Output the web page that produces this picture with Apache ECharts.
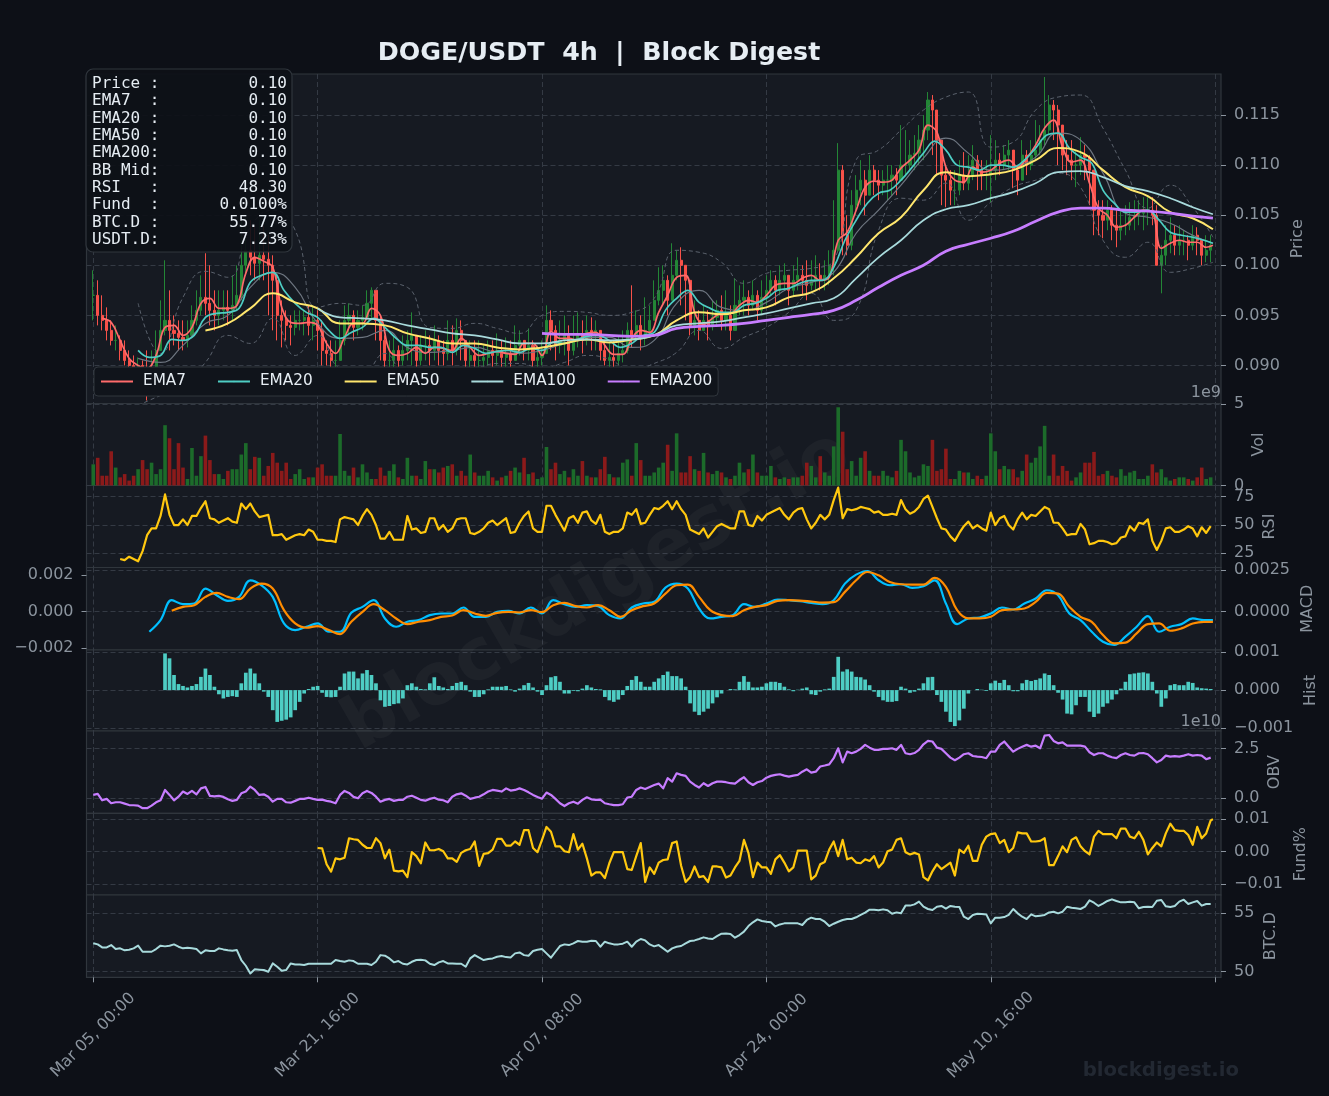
<!DOCTYPE html>
<html>
<head>
<meta charset="utf-8">
<title>DOGE/USDT 4h</title>
<script src="https://cdn.jsdelivr.net/npm/echarts@6/dist/echarts.min.js"></script>
<style>
html,body{margin:0;padding:0;background:#0d1017;}
#chart{width:1329px;height:1096px;}
</style>
</head>
<body>
<div id="chart"></div>
<script>
// candles and price lines are in units of 0.0001, one candle kept per 8h
const closes=[970,950,945,935,925,925,915,905,900,897,900,895,893,898,915,935,945,935,932,928,925,930,945,955,968,962,955,950,955,958,955,960,970,1000,1015,1008,1002,1010,1006,1000,985,950,945,940,938,945,945,948,940,945,935,915,912,905,905,925,945,950,938,945,948,962,975,945,925,905,905,915,905,915,925,930,905,920,920,915,925,915,912,925,915,935,925,905,910,905,905,908,915,910,915,908,912,905,920,925,915,920,905,908,912,945,935,920,925,930,915,925,930,925,935,930,935,915,905,908,905,912,915,935,930,940,930,935,945,965,975,985,965,990,1005,1000,985,940,945,935,945,940,948,955,945,950,935,960,965,968,960,970,955,968,975,985,975,985,990,975,985,990,985,980,985,990,985,990,1000,1015,1095,1030,1020,1060,1075,1085,1070,1095,1085,1080,1085,1085,1090,1085,1100,1100,1110,1112,1125,1135,1165,1155,1125,1090,1085,1075,1075,1090,1082,1090,1105,1095,1090,1090,1095,1105,1100,1110,1115,1095,1085,1110,1100,1110,1115,1125,1135,1160,1155,1140,1110,1105,1100,1100,1110,1108,1095,1055,1050,1045,1055,1040,1035,1040,1040,1048,1050,1052,1055,1055,1050,1000,1010,1025,1030,1020,1025,1025,1020,1030,1025,1010,1015,1020];
const highs=[995,985,970,958,945,940,930,925,915,910,908,905,915,915,935,965,1005,975,950,945,945,945,960,975,990,1012,1000,975,975,975,975,990,1000,1048,1047,1045,1040,1045,1040,1030,1010,990,965,955,950,955,955,955,960,960,955,945,925,925,925,945,960,962,955,955,960,975,978,970,950,930,925,930,920,930,935,953,930,930,935,930,940,930,925,945,940,947,945,925,925,925,925,920,925,925,932,925,928,925,940,935,925,937,925,920,925,960,955,940,945,950,940,950,953,945,950,948,945,930,925,922,925,930,935,943,980,955,950,968,960,985,998,1000,990,1022,1015,1018,1000,970,965,955,960,955,965,965,970,975,960,987,980,985,975,985,975,985,990,995,990,1000,1002,990,1000,1008,1000,1005,1005,1010,1002,1005,1015,1065,1122,1100,1050,1075,1090,1105,1095,1110,1100,1095,1095,1100,1100,1097,1140,1135,1125,1130,1140,1150,1173,1170,1150,1120,1100,1095,1095,1105,1113,1110,1120,1110,1105,1105,1130,1125,1112,1120,1125,1110,1100,1125,1115,1125,1145,1140,1188,1170,1165,1160,1135,1125,1125,1115,1128,1120,1110,1075,1065,1065,1065,1060,1055,1055,1060,1063,1065,1065,1068,1068,1068,1060,1020,1040,1048,1040,1040,1035,1030,1040,1038,1025,1030,1030];
const lows=[945,940,935,925,920,915,905,900,895,890,880,875,865,885,895,915,930,915,920,915,915,918,930,940,950,950,940,935,940,945,940,945,955,965,990,990,985,985,985,950,935,925,918,925,920,930,935,930,930,925,915,900,900,890,895,905,920,930,925,930,935,945,945,925,905,890,895,895,895,900,905,900,890,900,905,900,905,900,900,905,900,910,905,892,895,893,895,895,900,895,900,895,898,893,905,910,905,905,895,898,900,915,915,905,912,910,900,910,918,912,920,915,915,905,900,898,898,900,903,912,918,925,915,920,930,945,960,960,950,965,985,960,945,930,930,925,935,925,935,940,935,935,925,935,950,950,950,955,945,950,960,970,960,970,975,960,970,975,970,965,975,975,975,975,980,990,1013,1010,1010,1015,1050,1060,1050,1070,1070,1065,1070,1065,1070,1070,1085,1090,1095,1095,1100,1105,1125,1110,1090,1060,1058,1060,1060,1070,1075,1075,1085,1075,1075,1075,1063,1085,1090,1095,1095,1077,1070,1085,1090,1095,1105,1110,1120,1130,1125,1100,1095,1090,1085,1078,1090,1085,1060,1030,1030,1027,1035,1025,1018,1025,1030,1035,1035,1040,1035,1040,1040,1000,972,1000,1012,1010,1010,1010,1005,1015,1010,1000,1003,1003];
const ema7=[947,943,925,907,900,897,910,938,940,930,938,962,967,957,957,960,992,1008,1004,998,958,943,942,943,940,922,912,928,942,942,957,950,915,910,912,918,912,918,917,915,927,918,910,912,914,912,911,922,922,910,934,927,927,925,932,933,920,911,911,927,935,933,953,970,988,990,953,941,947,952,952,960,965,963,970,980,982,982,987,990,985,988,1025,1033,1055,1078,1084,1083,1085,1097,1105,1115,1140,1133,1098,1085,1083,1098,1093,1095,1102,1105,1098,1107,1120,1137,1145,1118,1103,1105,1082,1057,1050,1038,1040,1048,1055,1053,1017,1022,1025,1023,1023,1018,1020];
const ema20=[915,908,910,926,925,930,948,952,953,957,983,990,993,975,962,953,948,935,927,933,938,947,938,927,920,920,918,918,913,920,917,912,914,915,913,917,915,923,922,925,929,930,925,918,922,930,933,955,967,975,963,957,953,953,960,962,967,975,977,982,985,985,998,1025,1045,1062,1072,1075,1085,1098,1112,1124,1115,1100,1098,1095,1100,1100,1098,1105,1117,1130,1132,1117,1108,1102,1075,1062,1053,1053,1055,1045,1033,1030,1028,1025,1022];
const ema50=[935,942,957,972,963,957,942,942,940,932,927,922,922,918,916,918,922,926,923,926,930,945,953,951,955,958,968,973,987,1008,1032,1048,1075,1093,1089,1091,1095,1105,1117,1113,1095,1078,1069,1053,1047,1036];
const ema100=[957,948,947,945,940,936,932,930,926,922,922,925,926,925,926,930,940,942,944,948,952,957,962,967,987,1008,1025,1045,1056,1060,1067,1073,1082,1093,1094,1088,1079,1074,1067,1058,1051];
const ema200=[932,931,931,930,929,930,937,939,940,942,945,948,951,955,965,978,990,1000,1014,1021,1027,1034,1044,1053,1057,1057,1055,1054,1052,1049,1047];
const bbMid=[907,903,920,942,950,978,993,978,942,927,928,935,918,913,915,918,913,912,915,922,928,928,918,925,962,975,958,955,963,977,983,993,1032,1055,1080,1107,1127,1112,1095,1098,1108,1132,1125,1092,1052,1048,1042,1030,1022];
const bbUp=[962,912,968,994,988,1038,1055,1035,958,962,960,982,978,938,937,942,937,932,950,954,953,950,953,967,1015,1013,1003,982,992,995,997,1005,1105,1115,1135,1155,1168,1173,1118,1123,1155,1168,1170,1137,1095,1057,1080,1058,1028];
const bbLow=[860,870,878,903,930,922,947,910,930,897,893,912,888,895,898,898,902,902,897,903,910,906,895,902,913,935,917,928,938,953,972,945,955,1035,1067,1065,1082,1045,1063,1078,1085,1092,1078,1025,1008,1023,993,997,1003];
// volume in units of 1e7
const volumes=[130,170,60,60,210,110,50,70,30,60,100,156,100,140,70,100,370,290,100,260,110,40,230,60,180,306,156,70,70,40,90,100,100,190,260,100,176,170,60,120,200,140,90,140,40,70,100,40,50,50,110,130,60,60,60,316,90,60,110,50,130,80,40,40,110,60,90,130,50,40,170,60,60,40,150,100,100,80,110,120,130,60,90,60,190,80,60,60,90,50,30,50,60,90,110,80,170,70,80,40,50,236,100,140,70,90,50,100,60,150,60,50,50,100,176,70,50,50,140,160,60,260,156,60,60,80,110,140,250,90,320,80,80,180,100,90,200,80,70,90,80,50,40,60,140,80,100,190,80,60,60,120,50,40,50,40,50,50,60,140,120,50,180,80,60,240,480,330,100,150,60,170,210,90,60,60,90,60,50,90,280,210,80,50,60,130,120,280,90,100,226,40,40,90,80,80,40,60,40,60,320,210,100,120,100,100,50,90,190,140,170,240,366,60,190,60,120,90,30,50,80,140,140,206,60,70,90,60,50,100,60,80,90,40,40,60,130,80,100,50,30,40,50,50,40,30,50,110,40,50];
const rsi=[20,19,22,20,18,27,41,47,47,58,77,59,50,50,55,50,58,58,65,71,56,55,52,54,56,53,52,69,64,69,62,57,58,59,41,41,42,37,39,41,42,41,46,44,37,37,36,36,35,55,57,56,55,50,58,64,59,50,38,38,44,37,37,37,58,46,47,43,44,56,56,46,50,44,47,55,56,56,43,42,44,47,52,54,50,53,56,43,44,52,58,62,47,44,44,67,67,59,52,45,56,58,52,61,62,54,51,59,44,42,44,44,47,61,59,64,51,52,59,65,64,67,71,64,71,64,59,46,44,42,47,39,44,49,51,49,47,47,62,62,50,49,58,54,59,61,63,65,59,55,61,64,65,55,47,52,59,55,59,72,83,56,64,63,64,66,65,64,61,62,59,59,60,59,72,64,60,62,66,73,76,66,56,47,46,40,36,43,49,53,47,50,47,45,61,50,56,58,50,46,55,61,55,59,58,62,66,64,52,52,47,41,42,42,51,46,33,34,36,36,35,33,34,39,40,49,45,52,51,55,36,28,36,47,48,44,44,46,49,47,40,48,43,49];
// macd and signal in units of 1e-5
const macdLine=[-122,-52,68,44,48,138,98,64,88,188,158,88,-72,-112,-92,-72,-122,-122,-8,28,68,-42,-92,-62,-52,-22,-12,-12,24,-32,-32,-2,4,-12,24,-12,68,44,28,38,32,-22,-42,24,48,58,144,168,138,18,-42,-32,-22,44,28,48,72,68,62,52,44,68,168,222,244,188,158,164,142,152,188,48,-76,-42,-36,-12,24,12,48,78,128,98,-12,-52,-122,-182,-202,-152,-92,-28,-122,-92,-76,-42,-52,-52];
const signalLine=[4,28,38,88,112,88,74,138,168,138,8,-72,-98,-88,-112,-136,-62,-2,44,8,-42,-76,-62,-52,-32,-24,8,-12,-26,-8,-2,-6,8,-4,38,52,32,24,38,8,-32,8,32,48,108,158,162,88,8,-22,-28,8,28,38,64,68,66,60,54,56,118,188,238,218,178,164,162,162,202,148,8,-42,-42,-32,8,12,18,58,112,108,28,-32,-62,-142,-192,-188,-132,-76,-72,-116,-102,-72,-62,-62];
// histogram in units of 1e-5
const hist=[97,84,40,16,11,7,11,16,35,57,40,9,-11,-22,-18,-16,-18,18,46,57,44,18,-4,-18,-53,-84,-81,-78,-72,-53,-31,-9,3,9,11,-7,-18,-19,-18,9,44,49,49,31,44,53,40,18,-27,-44,-42,-37,-35,-22,13,18,9,3,2,18,34,11,7,3,11,19,22,13,-4,-18,-18,-11,2,9,9,9,11,2,-4,4,13,19,7,-4,-13,13,34,37,22,-9,-9,-2,-3,4,13,7,3,2,-18,-27,-31,-25,-13,11,27,37,22,9,9,22,31,40,49,37,37,31,9,-35,-57,-66,-57,-49,-35,-19,-9,0,3,2,22,37,22,7,7,9,18,22,22,19,9,2,-3,1,4,7,-11,-13,-4,2,4,35,88,49,55,49,35,34,28,13,-4,-18,-27,-31,-31,-29,9,4,-7,-4,4,18,34,35,-13,-31,-57,-84,-95,-80,-49,-9,0,3,1,-2,18,25,19,27,13,-3,-3,18,27,24,27,31,44,40,13,-7,-25,-62,-64,-40,-18,-18,-57,-71,-62,-44,-35,-25,-11,4,22,42,44,46,47,44,22,-9,-44,-22,13,16,13,13,22,19,7,5,4,3];
// obv in units of 1e8
const obv=[17,22,-10,-3,-25,-20,-20,-27,-34,-35,-37,-50,-50,-37,-20,-10,42,17,-10,8,34,22,37,20,50,57,12,10,12,7,-5,-13,-8,25,34,59,42,17,20,8,-17,-3,-3,-20,-22,-13,-3,-3,3,-3,-8,-7,-13,-17,-25,17,37,27,7,0,25,37,27,8,-17,-8,-3,-13,-8,-8,8,13,3,-8,-12,-3,3,-7,-10,-20,8,20,25,13,-3,3,8,20,34,42,39,34,50,39,42,50,42,30,17,7,-2,29,17,-3,-25,-39,-25,-17,-27,-8,5,-5,-8,-7,-25,-30,-34,-34,-30,3,8,42,54,47,57,67,74,50,101,84,126,118,113,84,67,54,76,62,76,84,84,81,76,74,92,106,81,67,81,87,104,113,118,121,114,109,114,118,134,146,129,134,160,165,171,202,252,181,235,227,235,249,269,255,244,244,249,249,252,244,269,227,222,228,244,272,289,286,255,249,227,205,192,205,222,227,213,210,208,202,235,235,269,286,260,235,249,260,269,260,265,252,316,319,289,277,282,265,265,265,265,260,232,218,227,227,215,207,202,218,227,218,215,227,228,222,202,181,193,215,210,212,210,215,222,215,218,215,197,205];
// funding in units of 0.0001 %, starts at candle 100
const funding=[11,10,-39,-62,-21,-24,-19,41,38,36,21,11,11,41,26,-21,6,-59,-61,-59,-79,-2,-14,-36,28,4,4,8,1,-21,-21,-32,-4,4,8,31,-44,-7,-5,6,39,39,18,18,31,21,66,66,11,-2,36,76,61,16,16,1,-2,54,6,24,-21,-74,-64,-64,-82,-36,-2,-2,-2,-54,-57,-14,26,-94,-49,-69,-34,-26,-24,26,31,-44,-94,-79,-46,-79,-76,-94,-46,-46,-49,-80,-74,-49,-29,36,-4,-79,-34,-49,-49,-69,-24,-11,-34,-61,-49,3,3,3,-86,-74,-39,-32,6,31,-14,36,-24,-19,-34,-36,-24,-29,-14,-49,-34,1,6,36,41,-2,-9,-4,-9,-79,-89,-61,-39,-54,-44,-34,-74,6,-4,18,-29,-29,21,46,54,56,26,36,-2,11,59,56,56,31,31,33,41,-42,-42,-14,16,-2,36,44,16,1,-9,46,64,54,54,54,41,71,71,46,41,61,36,-9,11,28,16,56,86,66,64,64,51,21,76,41,56,96,100];
// btc dominance in units of 0.01 %
const btcDom=[5243,5234,5208,5208,5228,5194,5200,5183,5188,5200,5223,5171,5171,5171,5194,5223,5217,5223,5234,5214,5200,5206,5200,5194,5157,5183,5177,5177,5200,5191,5183,5180,5185,5100,5051,4985,5020,5017,5014,5000,5071,5042,5008,5014,5071,5062,5062,5057,5068,5068,5068,5068,5068,5068,5100,5091,5085,5097,5091,5068,5068,5068,5057,5085,5142,5137,5114,5080,5091,5068,5062,5085,5100,5103,5097,5068,5057,5080,5091,5071,5071,5068,5068,5042,5114,5142,5120,5100,5108,5114,5128,5134,5125,5122,5157,5165,5142,5137,5177,5188,5194,5157,5120,5171,5220,5234,5228,5243,5263,5257,5257,5265,5263,5214,5257,5243,5234,5234,5240,5257,5214,5257,5280,5268,5234,5217,5228,5200,5171,5200,5214,5220,5243,5263,5268,5280,5294,5285,5280,5305,5326,5328,5323,5291,5314,5343,5391,5423,5448,5434,5428,5423,5388,5405,5414,5414,5414,5414,5400,5443,5463,5451,5451,5428,5391,5411,5428,5443,5451,5451,5466,5486,5506,5531,5531,5526,5534,5526,5497,5508,5500,5566,5566,5577,5600,5557,5537,5528,5557,5563,5540,5563,5557,5554,5471,5451,5486,5497,5494,5491,5414,5463,5463,5468,5486,5537,5500,5471,5451,5491,5474,5480,5486,5508,5514,5500,5514,5557,5548,5543,5537,5557,5611,5591,5563,5583,5606,5620,5606,5594,5594,5600,5594,5543,5554,5557,5554,5608,5614,5560,5554,5563,5600,5617,5580,5594,5606,5566,5580,5580];

const xTicks=[0,100,200,300,400,500];
const xLabels=["Mar 05, 00:00","Mar 21, 16:00","Apr 07, 08:00","Apr 24, 00:00","May 10, 16:00",""];
const infoLabels=["Price :","EMA7  :","EMA20 :","EMA50 :","EMA200:","BB Mid:","RSI   :","Fund  :","BTC.D :","USDT.D:"];
const infoValues=["0.10","0.10","0.10","0.10","0.10","0.10","48.30","0.0100%","55.77%","7.23%"];
const panelNames=["Price","Vol","RSI","MACD","Hist","OBV","Fund%","BTC.D"];

const C_TEXT="#e6edf3",C_TICK="#8b949e",C_GRID="#343a44",C_SPINE="#30363d",C_YELLOW="#ffc80f",FONT="DejaVu Sans";
const LAST=499,TICK_FONT=16;

function pts(values,start,step,scale){
	return values.map(function(v,i){
		return [Math.min(start+i*step,LAST),v*scale];
	});
}

// panel frames: [top,bottom,min,max,right ticks,name gap]
const panels=[
	[74,403.5,0.08620,0.1191,[0.09,0.095,0.1,0.105,0.11,0.115],69],
	[403.5,485.5,0,5.03e9,[0,5e9],30],
	[485.5,567.5,12.5,84.9,[25,50,75],41],
	[567.5,650,-0.00232,0.00265,[0,0.0025],79],
	[650,731,-0.00108,0.00106,[-0.001,0,0.001],82],
	[731,813.3,-0.756e10,3.39e10,[0,2.5e10],46],
	[813.3,895,-0.0134,0.0118,[-0.01,0,0.01],72],
	[895,977.3,49.52,56.57,[50,55],42]
];
const labelFmt=[
	function(v){return v.toFixed(3);},
	function(v){return String(v/1e9);},
	function(v){return String(v);},
	function(v){return v.toFixed(4);},
	function(v){return v.toFixed(3).replace("-","\u2212");},
	function(v){return (v/1e10).toFixed(1);},
	function(v){return v.toFixed(2).replace("-","\u2212");},
	function(v){return String(v);}
];

const grids=[],xAxes=[],yAxes=[];
const dashed={lineStyle:{color:C_GRID,type:[5,3],width:1}};
panels.forEach(function(p,i){
	grids.push({show:true,left:86.5,width:1134.5,top:p[0],height:p[1]-p[0],backgroundColor:"#161a22",borderColor:C_SPINE,borderWidth:1.2});
	const isLast=i===panels.length-1;
	xAxes.push({
		type:"value",gridIndex:i,min:-3,max:502.6,
		axisLine:{show:false,onZero:false},
		axisTick:{show:isLast,length:5,lineStyle:{color:C_TICK},customValues:xTicks},
		splitLine:Object.assign({show:true},dashed),
		axisLabel:{
			show:isLast,rotate:45,align:"center",verticalAlign:"middle",color:C_TICK,fontFamily:FONT,fontSize:TICK_FONT,margin:58,
			customValues:xTicks,
			formatter:function(v){return xLabels[xTicks.indexOf(v)]||"";}
		}
	});
	yAxes.push({
		type:"value",gridIndex:i,position:"right",min:p[2],max:p[3],scale:true,
		name:panelNames[i],nameLocation:"middle",nameRotate:90,nameGap:p[5],nameMoveOverlap:false,
		nameTextStyle:{color:C_TICK,fontFamily:FONT,fontSize:TICK_FONT},
		axisLine:{show:false,onZero:false},
		axisTick:{show:true,length:5,lineStyle:{color:C_TICK},customValues:p[4]},
		splitLine:Object.assign({show:true},dashed),
		axisLabel:{color:C_TICK,fontFamily:FONT,fontSize:TICK_FONT,margin:13,padding:[4,0,0,0],customValues:p[4],formatter:labelFmt[i]}
	});
});
// macd panel also carries a left scale
yAxes.push({
	type:"value",gridIndex:3,position:"left",min:-0.00211,max:0.00242,
	axisLine:{show:false,onZero:false},splitLine:{show:false},
	axisTick:{show:true,length:5,lineStyle:{color:C_TICK},customValues:[-0.002,0,0.002]},
	axisLabel:{color:C_TICK,fontFamily:FONT,fontSize:TICK_FONT,margin:13,padding:[4,0,0,0],customValues:[-0.002,0,0.002],
		formatter:function(v){return v.toFixed(3).replace("-","\u2212");}}
});

function line(name,data,panel,color,width,dash,smooth){
	return {
		name:name,type:"line",xAxisIndex:panel,yAxisIndex:panel,data:data,
		symbol:"none",showSymbol:false,silent:true,z:3,
		smooth:smooth||false,
		lineStyle:{color:color,width:width,type:dash||"solid",join:"round"},
		itemStyle:{color:color}
	};
}

const candleData=closes.map(function(c,i){
	const o=i?closes[i-1]:c;
	return [i*2,o/1e4,c/1e4,lows[i]/1e4,highs[i]/1e4];
});
const volData=volumes.map(function(v,i){
	const up=closes[i]>=(i?closes[i-1]:closes[i]);
	return {value:[i*2,v*1e7],itemStyle:{color:up?"#1c6b2a":"#8b1a1a"}};
});

const series=[
	{
		type:"candlestick",xAxisIndex:0,yAxisIndex:0,data:candleData,silent:true,barWidth:2.6,z:2,
		encode:{x:0,y:[1,2,3,4]},
		itemStyle:{color:"#238636",color0:"#f85149",borderColor:"#238636",borderColor0:"#f85149",borderWidth:1}
	},
	line("BB Up",pts(bbUp,20,10,1e-4),0,"#5b626d",1,[4,3],0.5),
	line("BB Low",pts(bbLow,20,10,1e-4),0,"#5b626d",1,[4,3],0.5),
	line("BB Mid",pts(bbMid,20,10,1e-4),0,"#6e7681",1.2,null,0.5),
	line("EMA7",pts(ema7,4,4,1e-4),0,"#ff6b6b",1.7,null,0.4),
	line("EMA20",pts(ema20,20,5,1e-4),0,"#4ecdc4",1.7,null,0.4),
	line("EMA50",pts(ema50,50,10,1e-4),0,"#ffe66d",2,null,0.5),
	line("EMA100",pts(ema100,100,10,1e-4),0,"#a8dadc",1.7,null,0.5),
	line("EMA200",pts(ema200,200,10,1e-4),0,"#c77dff",2.8,null,0.5),
	{type:"bar",xAxisIndex:1,yAxisIndex:1,data:volData,barWidth:3.6,silent:true},
	line("RSI",pts(rsi,12,2,1),2,C_YELLOW,2.2),
	line("MACD",pts(macdLine,25,5,1e-5),3,"#00bfff",2.2,null,0.4),
	line("Signal",pts(signalLine,35,5,1e-5),3,"#ff8c00",2.2,null,0.4),
	{type:"bar",xAxisIndex:4,yAxisIndex:4,data:pts(hist,32,2,1e-5),barWidth:3.7,silent:true,itemStyle:{color:"#4ecdc4"}},
	line("OBV",pts(obv,0,2,1e8),5,"#c77dff",2.2),
	line("Fund",pts(funding,100,2,1e-4),6,C_YELLOW,2.2),
	line("BTC.D",pts(btcDom,0,2,0.01),7,"#a8dadc",2)
];

const graphics=[
	{type:"text",x:598,y:592,rotation:Math.PI/6,z:1,silent:true,style:{text:"blockdigest.io",fill:"rgba(255,255,255,0.035)",font:"bold 72px 'DejaVu Sans'",align:"center",verticalAlign:"middle"}},
	{type:"text",x:1239,y:1071,z:1,silent:true,style:{text:"blockdigest.io",fill:"#222832",font:"bold 19.7px 'DejaVu Sans'",align:"right",verticalAlign:"middle"}},
	{type:"text",x:1221,y:393,z:10,silent:true,style:{text:"1e9",fill:C_TICK,font:"16px 'DejaVu Sans'",align:"right",verticalAlign:"middle"}},
	{type:"text",x:1221,y:722,z:10,silent:true,style:{text:"1e10",fill:C_TICK,font:"16px 'DejaVu Sans'",align:"right",verticalAlign:"middle"}},
	{type:"rect",z:50,silent:true,shape:{x:86,y:69,width:206,height:183,r:7},style:{fill:"rgba(13,16,23,0.92)",stroke:C_SPINE,lineWidth:1.2}}
];
infoLabels.forEach(function(t,i){
	const y=84+i*17.33;
	graphics.push({type:"text",x:92,y:y,z:51,silent:true,style:{text:t,fill:C_TEXT,font:"16px 'DejaVu Sans Mono'",align:"left",verticalAlign:"middle"}});
	graphics.push({type:"text",x:287,y:y,z:51,silent:true,style:{text:infoValues[i],fill:C_TEXT,font:"16px 'DejaVu Sans Mono'",align:"right",verticalAlign:"middle"}});
});

const chart=echarts.init(document.getElementById("chart"));
chart.setOption({
	animation:false,
	backgroundColor:"#0d1017",
	title:{text:"DOGE/USDT  4h  |  Block Digest",left:594,top:36,textAlign:"center",textStyle:{color:C_TEXT,fontFamily:FONT,fontWeight:"bold",fontSize:25.3}},
	legend:{
		data:["EMA7","EMA20","EMA50","EMA100","EMA200"],
		left:94,top:367,itemWidth:32,itemHeight:2,itemGap:31,padding:[7,6,7,6],
		backgroundColor:"#10141b",borderColor:C_SPINE,borderWidth:1,borderRadius:4,
		selectedMode:false,z:40,
		textStyle:{color:C_TEXT,fontFamily:FONT,fontSize:15.28,padding:[0,0,0,5]}
	},
	grid:grids,
	xAxis:xAxes,
	yAxis:yAxes,
	series:series,
	graphic:graphics
});
</script>
</body>
</html>
